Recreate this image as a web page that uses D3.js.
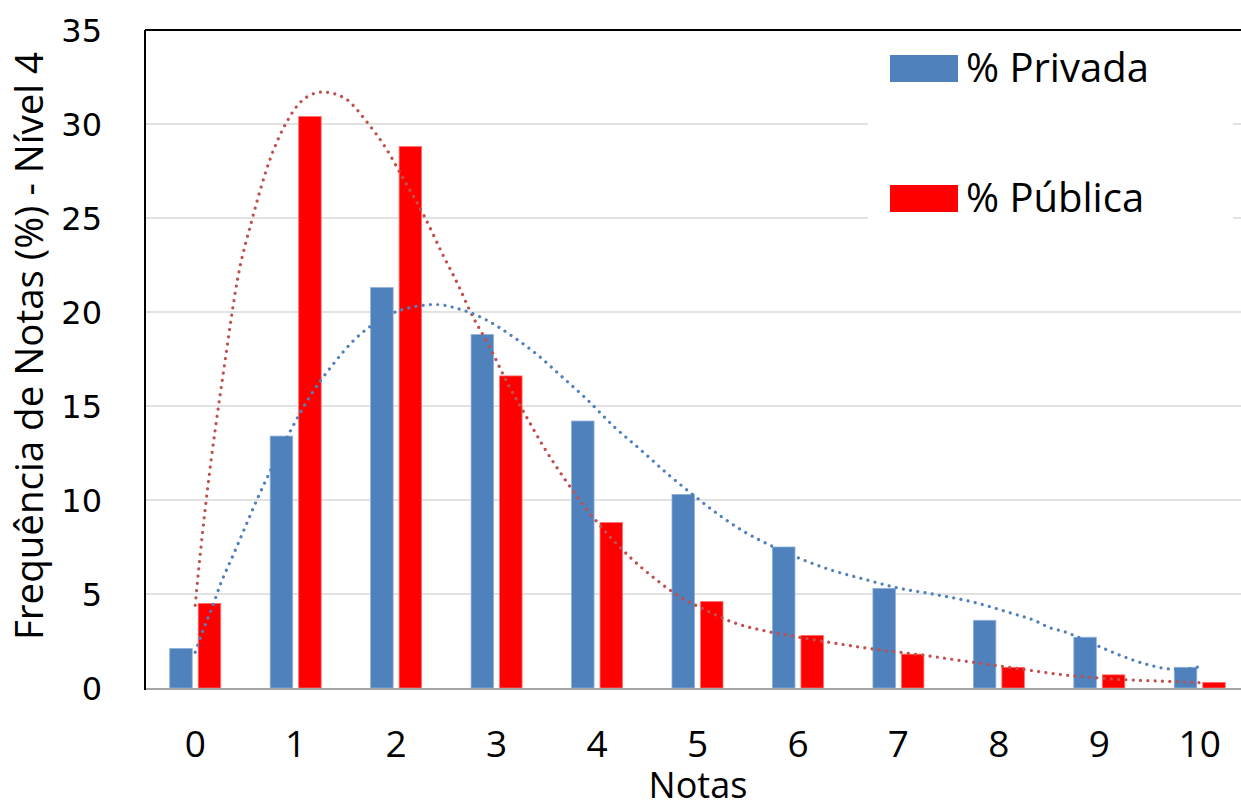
<!DOCTYPE html>
<html>
<head>
<meta charset="utf-8">
<script src="https://cdn.jsdelivr.net/npm/d3@7"></script>
<style>
  html, body { margin: 0; padding: 0; background: #fff; }
  svg { display: block; }
</style>
</head>
<body>
<svg id="chart" width="1241" height="803"></svg>
<script>
// ---- Data ----
const categories = ["0","1","2","3","4","5","6","7","8","9","10"];
const seriesNames = ["% Privada", "% Pública"];
const privada = [2.1, 13.4, 21.3, 18.8, 14.2, 10.3, 7.5, 5.3, 3.6, 2.7, 1.1];
const publica = [4.5, 30.4, 28.8, 16.6, 8.8, 4.6, 2.8, 1.8, 1.1, 0.7, 0.3];
const yTicks = [0, 5, 10, 15, 20, 25, 30, 35];

// Trend lines: [note, percent]
const trendPrivada = [
  [0,1.9],[0.08,3.1],[0.17,4.3],[0.25,5.5],[0.38,7.1],[0.5,8.6],[0.63,10.2],[0.73,11.35],
  [0.94,13.6],[1.14,15.5],[1.37,17.2],[1.58,18.5],[1.71,19.1],[1.97,19.95],[2.2,20.3],
  [2.4,20.4],[2.6,20.2],[2.89,19.6],[3.16,18.7],[3.42,17.66],[3.65,16.56],[3.89,15.4],
  [4.17,13.9],[4.47,12.5],[4.71,11.35],[4.95,10.3],[5.2,9.26],[5.47,8.3],[5.76,7.5],
  [6.04,6.84],[6.35,6.24],[6.65,5.8],[6.97,5.35],[7.36,4.98],[7.75,4.56],[8.13,3.97],
  [8.36,3.58],[8.51,3.2],[8.65,3.0],[8.8,2.68],[9.02,2.16],[9.24,1.67],[9.47,1.26],
  [9.7,1.01],[9.8,0.99],[10,1.13]
];
const trendPublica = [
  [0,4.4],[0.04,6.6],[0.11,10],[0.3,17.5],[0.42,21.7],[0.57,25.0],[0.75,28.2],[0.92,30.2],
  [1.1,31.4],[1.27,31.7],[1.48,31.4],[1.71,30.1],[1.9,28.7],[2.06,27.2],[2.28,25.1],
  [2.46,23.1],[2.63,21.3],[2.74,20.0],[2.93,18.15],[3.11,16.2],[3.3,14.4],[3.46,12.9],
  [3.68,11.1],[3.87,9.7],[4.12,8.1],[4.34,6.9],[4.58,5.8],[4.84,4.8],[5.06,4.2],[5.35,3.5],
  [5.66,3.05],[5.94,2.77],[6.44,2.32],[6.75,2.07],[7.15,1.81],[7.7,1.4],[8.1,1.1],
  [8.73,0.65],[9.13,0.48],[9.76,0.34],[10,0.28]
];

// ---- Layout ----
const svg = d3.select("#chart");
const plotLeft = 145, plotTop = 30, plotBottom = 688, rightEdge = 1241;
const colors = {"% Privada": "#4F81BD", "% Pública": "#FF0000"};
const strokes = {"% Privada": "#8FB0DA", "% Pública": "#FF7070"};
const trendColors = {"% Privada": "#4F81BD", "% Pública": "#C0504D"};

const x = d3.scaleBand().domain(categories).range([plotLeft, 1250]).paddingInner(0).paddingOuter(0);
const xSub = d3.scaleBand().domain(seriesNames).range([-25.5, 25.5]).paddingInner(0.21);
const y = d3.scaleLinear().domain([0, 35]).range([plotBottom, plotTop]);
const xLin = d3.scaleLinear().domain([0, 10])
  .range([x("0") + x.bandwidth()/2, x("10") + x.bandwidth()/2]);

// Gridlines
svg.append("g").selectAll("line").data(yTicks.filter(d => d > 0 && d < 35)).join("line")
  .attr("x1", plotLeft).attr("x2", rightEdge)
  .attr("y1", d => y(d)).attr("y2", d => y(d))
  .attr("stroke", "#D9D9D9").attr("stroke-width", 1.6);

// Top border
svg.append("line").attr("x1", plotLeft).attr("x2", rightEdge)
  .attr("y1", y(35)).attr("y2", y(35)).attr("stroke", "#000").attr("stroke-width", 2);

// Bars
const rows = categories.map((c, i) => ({c, vals: [
  {name: seriesNames[0], v: privada[i]},
  {name: seriesNames[1], v: publica[i]}
]}));
const groups = svg.append("g").selectAll("g").data(rows).join("g")
  .attr("transform", d => `translate(${x(d.c) + x.bandwidth()/2},0)`);
groups.selectAll("rect").data(d => d.vals).join("rect")
  .attr("x", d => xSub(d.name))
  .attr("width", xSub.bandwidth())
  .attr("y", d => y(d.v))
  .attr("height", d => y(0) - y(d.v))
  .attr("fill", d => colors[d.name])
  .attr("stroke", d => strokes[d.name])
  .attr("stroke-width", 0.8);

// Bottom axis line
svg.append("line").attr("x1", plotLeft).attr("x2", rightEdge)
  .attr("y1", plotBottom + 1).attr("y2", plotBottom + 1)
  .attr("stroke", "#A6A6A6").attr("stroke-width", 2);

// Left axis line
svg.append("line").attr("x1", plotLeft).attr("x2", plotLeft)
  .attr("y1", plotTop).attr("y2", plotBottom + 2)
  .attr("stroke", "#000").attr("stroke-width", 2);

// Trend lines
const line = d3.line().x(d => xLin(d[0])).y(d => y(d[1])).curve(d3.curveMonotoneX);
[[seriesNames[1], trendPublica], [seriesNames[0], trendPrivada]].forEach(([name, data]) => {
  svg.append("path").datum(data)
    .attr("d", line)
    .attr("fill", "none")
    .attr("stroke", trendColors[name])
    .attr("stroke-width", 3.2)
    .attr("stroke-linecap", "round")
    .attr("stroke-dasharray", "0.01 7.3");
});

// Y axis tick labels
const yAxis = d3.axisLeft(y).tickValues(yTicks).tickSize(0).tickPadding(43).tickFormat(d3.format("d"));
const gy = svg.append("g").attr("transform", `translate(${plotLeft},0)`).call(yAxis);
gy.select(".domain").remove();
gy.selectAll("text").attr("font-family", "DejaVu Sans, sans-serif").attr("font-size", 32)
  .attr("fill", "#000").attr("dy", "0.36em");

// X axis tick labels
const xAxis = d3.axisBottom(x).tickSize(0).tickPadding(0);
const gx = svg.append("g").attr("transform", `translate(0,${plotBottom})`).call(xAxis);
gx.select(".domain").remove();
gx.selectAll("text").attr("font-family", "'Open Sans', sans-serif").attr("font-size", 37)
  .attr("fill", "#000").attr("y", 69).attr("dy", 0);

// Axis titles
svg.append("text").attr("x", 698).attr("y", 798).attr("text-anchor", "middle")
  .attr("font-family", "'Open Sans', sans-serif").attr("font-size", 36).attr("fill", "#000")
  .text("Notas");
svg.append("text").attr("transform", "translate(43,346) rotate(-90)").attr("text-anchor", "middle")
  .attr("font-family", "'Open Sans', sans-serif").attr("font-size", 38.5).attr("fill", "#000")
  .text("Frequência de Notas (%) - Nível 4");

// Legend
const lg = svg.append("g");
lg.append("rect").attr("x", 868).attr("y", 38).attr("width", 365).attr("height", 183).attr("fill", "#fff");
const legendRows = [{name: seriesNames[0], y: 55}, {name: seriesNames[1], y: 185}];
legendRows.forEach(r => {
  lg.append("rect").attr("x", 890).attr("y", r.y).attr("width", 68).attr("height", 27)
    .attr("fill", colors[r.name]);
  lg.append("text").attr("x", 966).attr("y", r.y + 27).attr("font-family", "'Open Sans', sans-serif")
    .attr("font-size", 40).attr("fill", "#000").text(r.name);
});
</script>
</body>
</html>
